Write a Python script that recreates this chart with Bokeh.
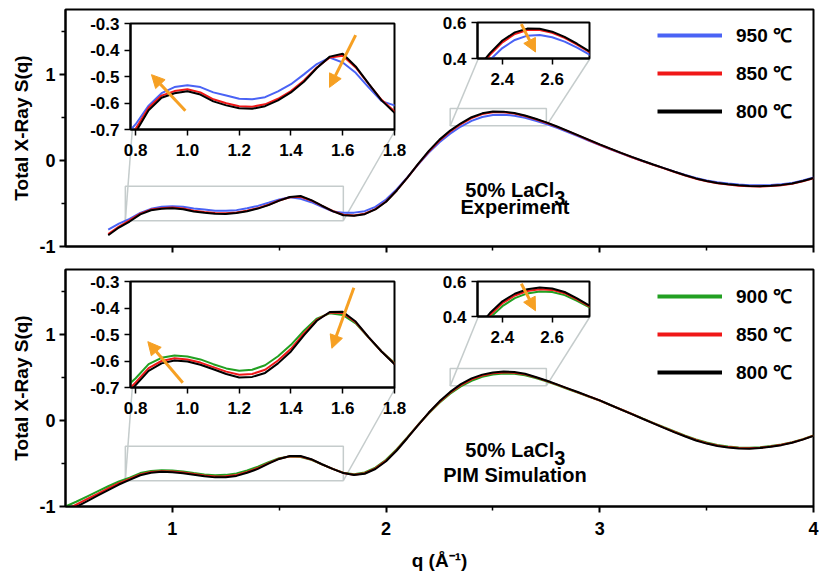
from bokeh.plotting import figure
from bokeh.models import (Range1d, FixedTicker, Legend, LegendItem, Label, Arrow,
                          NormalHead)
from bokeh.embed import file_html
from bokeh.resources import INLINE

# ---------------- data ----------------
Q_EXP = [round(0.70 + 0.05 * i, 2) for i in range(67)]
Q_SIM = [round(0.50 + 0.05 * i, 2) for i in range(71)]

EXP_800 = [-0.870, -0.780, -0.710, -0.627, -0.580, -0.563, -0.556, -0.568, -0.594, -0.609,
           -0.620, -0.622, -0.612, -0.590, -0.560, -0.520, -0.468, -0.425, -0.414, -0.462,
           -0.527, -0.590, -0.637, -0.644, -0.625, -0.570, -0.480, -0.350, -0.200, -0.040,
           0.110, 0.240, 0.345, 0.430, 0.500, 0.545, 0.566, 0.565, 0.549, 0.520,
           0.482, 0.440, 0.392, 0.342, 0.290, 0.237, 0.185, 0.135, 0.087, 0.040,
           -0.005, -0.048, -0.090, -0.132, -0.173, -0.210, -0.240, -0.262, -0.278, -0.290,
           -0.298, -0.300, -0.295, -0.285, -0.268, -0.240, -0.206]
EXP_850 = [-0.855, -0.770, -0.697, -0.618, -0.572, -0.555, -0.548, -0.560, -0.586, -0.601,
           -0.612, -0.614, -0.605, -0.584, -0.555, -0.515, -0.466, -0.428, -0.422, -0.466,
           -0.528, -0.588, -0.632, -0.640, -0.620, -0.566, -0.478, -0.350, -0.202, -0.045,
           0.102, 0.230, 0.335, 0.420, 0.490, 0.536, 0.558, 0.558, 0.543, 0.515,
           0.477, 0.436, 0.388, 0.338, 0.286, 0.233, 0.181, 0.131, 0.083, 0.036,
           -0.009, -0.052, -0.094, -0.136, -0.177, -0.214, -0.244, -0.266, -0.282, -0.294,
           -0.302, -0.304, -0.299, -0.289, -0.272, -0.244, -0.209]
EXP_950 = [-0.805, -0.735, -0.680, -0.610, -0.563, -0.540, -0.533, -0.540, -0.560, -0.572,
           -0.584, -0.586, -0.578, -0.556, -0.529, -0.492, -0.453, -0.429, -0.447, -0.486,
           -0.541, -0.593, -0.609, -0.607, -0.590, -0.540, -0.455, -0.335, -0.195, -0.050,
           0.090, 0.210, 0.310, 0.392, 0.458, 0.503, 0.527, 0.530, 0.518, 0.494,
           0.460, 0.421, 0.376, 0.328, 0.278, 0.227, 0.177, 0.128, 0.081, 0.036,
           -0.008, -0.050, -0.091, -0.131, -0.170, -0.205, -0.233, -0.254, -0.270, -0.281,
           -0.288, -0.290, -0.286, -0.277, -0.262, -0.235, -0.200]

SIM_800 = [-1.070, -1.005, -0.940, -0.875, -0.810, -0.745, -0.691, -0.637, -0.609, -0.598,
           -0.602, -0.614, -0.631, -0.649, -0.662, -0.660, -0.645, -0.609, -0.564, -0.503,
           -0.448, -0.415, -0.414, -0.451, -0.510, -0.564, -0.612, -0.635, -0.620, -0.565,
           -0.475, -0.350, -0.205, -0.055, 0.090, 0.220, 0.330, 0.420, 0.487, 0.530,
           0.556, 0.566, 0.560, 0.540, 0.503, 0.462, 0.417, 0.371, 0.325, 0.278,
           0.232, 0.178, 0.125, 0.072, 0.018, -0.035, -0.088, -0.140, -0.188, -0.234,
           -0.270, -0.298, -0.316, -0.326, -0.329, -0.322, -0.308, -0.288, -0.260, -0.224,
           -0.180]
SIM_850 = [-1.040, -0.978, -0.915, -0.853, -0.790, -0.730, -0.681, -0.627, -0.600, -0.590,
           -0.594, -0.606, -0.623, -0.640, -0.652, -0.649, -0.633, -0.598, -0.554, -0.496,
           -0.445, -0.417, -0.419, -0.454, -0.511, -0.564, -0.610, -0.631, -0.614, -0.558,
           -0.468, -0.344, -0.201, -0.054, 0.087, 0.213, 0.321, 0.409, 0.476, 0.520,
           0.546, 0.556, 0.552, 0.533, 0.498, 0.458, 0.414, 0.368, 0.322, 0.276,
           0.230, 0.177, 0.125, 0.073, 0.020, -0.032, -0.085, -0.136, -0.183, -0.229,
           -0.265, -0.293, -0.311, -0.321, -0.324, -0.318, -0.304, -0.284, -0.257, -0.221,
           -0.178]
SIM_900 = [-1.000, -0.945, -0.885, -0.825, -0.765, -0.710, -0.665, -0.612, -0.588, -0.579,
           -0.583, -0.594, -0.612, -0.628, -0.637, -0.633, -0.616, -0.582, -0.539, -0.486,
           -0.440, -0.420, -0.426, -0.458, -0.512, -0.564, -0.607, -0.625, -0.605, -0.548,
           -0.458, -0.335, -0.195, -0.052, 0.082, 0.203, 0.308, 0.393, 0.459, 0.505,
           0.532, 0.543, 0.540, 0.522, 0.490, 0.452, 0.409, 0.364, 0.319, 0.273,
           0.228, 0.176, 0.125, 0.074, 0.022, -0.029, -0.080, -0.130, -0.177, -0.222,
           -0.258, -0.286, -0.304, -0.314, -0.318, -0.312, -0.299, -0.280, -0.253, -0.218,
           -0.176]

EXP_LABELS = ["950 \u2103", "850 \u2103", "800 \u2103"]
SIM_LABELS = ["900 \u2103", "850 \u2103", "800 \u2103"]

X_TICKS = [1, 2, 3, 4]
X_TICK_LABELS = ["1", "2", "3", "4"]
X_MINOR = [1.5, 2.5, 3.5]
Y_TICKS = [-1, 0, 1]
Y_TICK_LABELS = ["-1", "0", "1"]
Y_MINOR = [-0.5, 0.5, 1.5]

INS_A_X = (0.78, 1.8)
INS_A_Y = (-0.7, -0.3)
INS_A_XT = [0.8, 1.0, 1.2, 1.4, 1.6, 1.8]
INS_A_XL = ["0.8", "1.0", "1.2", "1.4", "1.6", "1.8"]
INS_A_YT = [-0.7, -0.6, -0.5, -0.4, -0.3]
INS_A_YL = ["-0.7", "-0.6", "-0.5", "-0.4", "-0.3"]
INS_B_X = (2.3, 2.75)
INS_B_Y = (0.4, 0.6)
INS_B_XT = [2.4, 2.6]
INS_B_XL = ["2.4", "2.6"]
INS_B_YT = [0.4, 0.6]
INS_B_YL = ["0.4", "0.6"]

# arrows (x_start, y_start, x_end, y_end) in inset coordinates
EXP_ARROWS_A = [(0.992, -0.629, 0.861, -0.493), (1.650, -0.344, 1.549, -0.541)]
EXP_ARROWS_B = [(2.476, 0.591, 2.533, 0.436)]
SIM_ARROWS_A = [(0.982, -0.682, 0.847, -0.527), (1.643, -0.324, 1.558, -0.552)]
SIM_ARROWS_B = [(2.476, 0.587, 2.533, 0.433)]

BLUE = "#4a63f5"
RED = "#f01818"
GREEN = "#22a022"
BLACK = "#000000"
ORANGE = "#f6a023"
GRAY = "#c5cccc"
FONT = "Liberation Sans"

# ---------------- layout constants (page pixels) ----------------
PAGE = 8
FIG_W = 811
MBL, MBR = 55, 6
FX0 = PAGE + MBL            # frame left
FX1 = PAGE + FIG_W - MBR    # frame right
FRAME_H = 237
TOP_MBT, TOP_MBB = 1, 40
TOP_H = TOP_MBT + FRAME_H + TOP_MBB
BOT_TOP = 258
BOT_H, BOT_MBT = 322, 11
BOT_MBB = BOT_H - BOT_MBT - FRAME_H
TOP_FY0 = PAGE + TOP_MBT
BOT_FY0 = BOT_TOP + BOT_MBT
XR = (0.5, 4.0)
YR = (-1.0, 1.75)
XS = (FX1 - FX0) / (XR[1] - XR[0])
YS = FRAME_H / (YR[1] - YR[0])

INS_BL, INS_BR, INS_BT, INS_BB = 44, 16, 10, 36
# inset frames: left, top, width, height (page px)
INS_TOP_A = (130, 23, 264, 106)
INS_TOP_B = (477, 22, 112, 36)
INS_BOT_A = (130, 281, 264, 106)
INS_BOT_B = (477, 281, 112, 35)


def place(left, top, z):
    return {"position": "absolute", "left": f"{left}px", "top": f"{top}px",
            "z-index": str(z)}


def style_axis(ax, font_size, tick_w=2):
    ax.axis_line_width = 2
    ax.axis_line_color = "black"
    ax.major_tick_in = 0
    ax.major_tick_out = 6
    ax.major_tick_line_width = tick_w
    ax.minor_tick_in = 0
    ax.minor_tick_out = 4
    ax.minor_tick_line_width = 1.5
    ax.major_label_text_font = FONT
    ax.major_label_text_font_style = "bold"
    ax.major_label_text_font_size = font_size
    ax.major_label_text_color = "black"
    ax.major_label_standoff = 4


def main_fig(height, mbt, mbb, top, show_x, z):
    p = figure(width=FIG_W, height=height, x_range=Range1d(*XR), y_range=Range1d(*YR),
               output_backend="svg", toolbar_location=None,
               min_border_left=MBL, min_border_right=MBR,
               min_border_top=mbt, min_border_bottom=mbb,
               styles=place(PAGE, top, z))
    p.grid.visible = False
    p.background_fill_color = "white"
    p.border_fill_color = None
    p.outline_line_color = "black"
    p.outline_line_width = 2
    p.outline_line_alpha = 1
    p.xaxis.ticker = FixedTicker(ticks=X_TICKS, minor_ticks=X_MINOR)
    p.yaxis.ticker = FixedTicker(ticks=Y_TICKS, minor_ticks=Y_MINOR)
    p.xaxis.major_label_overrides = dict(zip(X_TICKS, X_TICK_LABELS))
    p.yaxis.major_label_overrides = dict(zip(Y_TICKS, Y_TICK_LABELS))
    style_axis(p.xaxis[0], "18px")
    style_axis(p.yaxis[0], "18px")
    p.yaxis.axis_label = "Total X-Ray S(q)"
    p.yaxis.axis_label_text_font = FONT
    p.yaxis.axis_label_text_font_style = "bold"
    p.yaxis.axis_label_text_font_size = "19px"
    p.yaxis.axis_label_text_color = "black"
    p.yaxis.axis_label_standoff = 4
    if show_x:
        p.xaxis.axis_label = "q (\u00c5\u207b\u00b9)"
        p.xaxis.axis_label_text_font = FONT
        p.xaxis.axis_label_text_font_style = "bold"
        p.xaxis.axis_label_text_font_size = "19px"
        p.xaxis.axis_label_text_color = "black"
        p.xaxis.axis_label_standoff = 12
        p.xaxis.major_label_standoff = 9
    else:
        p.xaxis.major_label_text_color = None
    return p


def inset_fig(frame, xr, yr, xt, xl, yt, yl):
    left, top, w, h = frame
    p = figure(width=INS_BL + w + INS_BR, height=INS_BT + h + INS_BB,
               x_range=Range1d(*xr), y_range=Range1d(*yr),
               output_backend="svg", toolbar_location=None,
               min_border_left=INS_BL, min_border_right=INS_BR,
               min_border_top=INS_BT, min_border_bottom=INS_BB,
               styles=place(left - INS_BL, top - INS_BT, 5))
    p.grid.visible = False
    p.background_fill_color = "white"
    p.border_fill_color = None
    p.outline_line_color = "black"
    p.outline_line_width = 2
    p.outline_line_alpha = 1
    p.xaxis.ticker = FixedTicker(ticks=xt, minor_ticks=[])
    p.yaxis.ticker = FixedTicker(ticks=yt, minor_ticks=[])
    p.xaxis.major_label_overrides = dict(zip(xt, xl))
    p.yaxis.major_label_overrides = dict(zip(yt, yl))
    style_axis(p.xaxis[0], "17px", tick_w=1.5)
    style_axis(p.yaxis[0], "17px", tick_w=1.5)
    p.xaxis.major_label_standoff = 8
    p.yaxis.major_label_standoff = 5
    return p


def add_curves(p, q, series, colors, width=2):
    for s, c in zip(series, colors):
        p.line(q, s, line_color=c, line_width=width)


def add_zoom_marks(p, frame_top_main, ins_a, ins_b):
    for (xr, yr), frame in (((INS_A_X, INS_A_Y), ins_a), ((INS_B_X, INS_B_Y), ins_b)):
        p.quad(left=[xr[0]], right=[xr[1]], bottom=[yr[0]], top=[yr[1]],
               fill_alpha=0, line_color=GRAY, line_width=1.5)
        left, top, w, h = frame
        fx_l = XR[0] + (left - FX0) / XS
        fx_r = XR[0] + (left + w - FX0) / XS
        fy_b = YR[1] - (top + h - frame_top_main) / YS
        p.segment(x0=[xr[0], xr[1]], y0=[yr[0], yr[0]], x1=[fx_l, fx_r], y1=[fy_b, fy_b],
                  line_color=GRAY, line_width=1.5)


def add_legend(p, q, series, colors, labels, loc):
    items = []
    for s, c, lab in zip(series, colors, labels):
        r = p.line(q, s, line_color=c, line_width=4, visible=False)
        items.append(LegendItem(label=lab, renderers=[r]))
    lg = Legend(items=items, location=loc, orientation="vertical",
                glyph_width=65, glyph_height=22, label_height=22, label_standoff=14,
                spacing=12, padding=0, margin=0, border_line_color=None,
                background_fill_alpha=0, label_text_font=FONT, label_text_color="black",
                label_text_font_style="bold", label_text_font_size="19px",
                inactive_fill_alpha=0)
    p.add_layout(lg)


def add_text(p, line2, y1, y2):
    kw = dict(text_font=FONT, text_font_style="bold", text_font_size="20px",
              text_color="black", text_baseline="alphabetic")
    p.add_layout(Label(x=2.787, y=y1, text="50% LaCl", text_align="right", **kw))
    p.add_layout(Label(x=2.787, y=y1 - 0.093, text="3", text_align="left", **kw))
    p.add_layout(Label(x=2.603, y=y2, text=line2, text_align="center", **kw))


def add_arrows(p, arrows):
    for xs, ys, xe, ye in arrows:
        p.add_layout(Arrow(end=NormalHead(size=13, fill_color=ORANGE, line_color=ORANGE),
                           x_start=xs, y_start=ys, x_end=xe, y_end=ye,
                           line_color=ORANGE, line_width=3))


# ---------------- top panel: experiment ----------------
exp_series = [EXP_950, EXP_850, EXP_800]
exp_colors = [BLUE, RED, BLACK]
p_top = main_fig(TOP_H, TOP_MBT, TOP_MBB, PAGE, False, 1)
add_zoom_marks(p_top, TOP_FY0, INS_TOP_A, INS_TOP_B)
add_curves(p_top, Q_EXP, exp_series, exp_colors)
add_legend(p_top, Q_EXP, exp_series, exp_colors, EXP_LABELS, (592, 122))
add_text(p_top, "Experiment", -0.346, -0.545)

i_top_a = inset_fig(INS_TOP_A, INS_A_X, INS_A_Y, INS_A_XT, INS_A_XL, INS_A_YT, INS_A_YL)
add_curves(i_top_a, Q_EXP, exp_series, exp_colors)
add_arrows(i_top_a, EXP_ARROWS_A)
i_top_b = inset_fig(INS_TOP_B, INS_B_X, INS_B_Y, INS_B_XT, INS_B_XL, INS_B_YT, INS_B_YL)
add_curves(i_top_b, Q_EXP, exp_series, exp_colors)
add_arrows(i_top_b, EXP_ARROWS_B)

# ---------------- bottom panel: simulation ----------------
sim_series = [SIM_900, SIM_850, SIM_800]
sim_colors = [GREEN, RED, BLACK]
p_bot = main_fig(BOT_H, BOT_MBT, BOT_MBB, BOT_TOP, True, 2)
add_zoom_marks(p_bot, BOT_FY0, INS_BOT_A, INS_BOT_B)
add_curves(p_bot, Q_SIM, sim_series, sim_colors)
add_legend(p_bot, Q_SIM, sim_series, sim_colors, SIM_LABELS, (592, 121))
add_text(p_bot, "PIM Simulation", -0.345, -0.640)

i_bot_a = inset_fig(INS_BOT_A, INS_A_X, INS_A_Y, INS_A_XT, INS_A_XL, INS_A_YT, INS_A_YL)
add_curves(i_bot_a, Q_SIM, sim_series, sim_colors)
add_arrows(i_bot_a, SIM_ARROWS_A)
i_bot_b = inset_fig(INS_BOT_B, INS_B_X, INS_B_Y, INS_B_XT, INS_B_XL, INS_B_YT, INS_B_YL)
add_curves(i_bot_b, Q_SIM, sim_series, sim_colors)
add_arrows(i_bot_b, SIM_ARROWS_B)

roots = [p_top, p_bot, i_top_a, i_top_b, i_bot_a, i_bot_b]
open("out.html", "w").write(file_html(roots, INLINE))
